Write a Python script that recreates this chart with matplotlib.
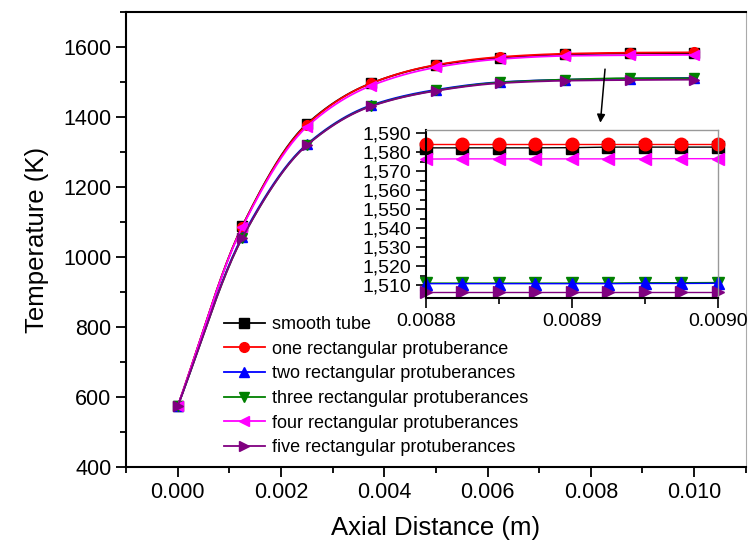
import numpy as np
import matplotlib.pyplot as plt
from matplotlib.ticker import MultipleLocator, FuncFormatter

plt.rcParams['font.family'] = ['Liberation Sans', 'DejaVu Sans']

# main data
x = [0.0, 0.00125, 0.0025, 0.00375, 0.005, 0.00625, 0.0075, 0.00875, 0.01]
smooth = [573, 1088, 1380, 1497, 1548, 1570, 1579, 1582, 1583]
one = [573, 1087, 1378, 1497, 1549, 1572, 1581, 1584, 1585]
two = [573, 1058, 1322, 1434, 1478, 1500, 1507, 1510, 1512]
three = [573, 1054, 1320, 1432, 1476, 1499, 1507, 1511, 1511]
four = [573, 1085, 1372, 1490, 1542, 1566, 1575, 1577, 1578]
five = [573, 1054, 1319, 1431, 1475, 1497, 1504, 1506, 1507]

# inset data (zoom near the outlet)
x_in = [0.0088, 0.008825, 0.00885, 0.008875, 0.0089, 0.008925, 0.00895, 0.008975, 0.009]
smooth_in = [1582.4, 1582.4, 1582.4, 1582.4, 1582.5, 1582.8, 1582.8, 1582.8, 1582.8]
one_in = [1584.7, 1584.7, 1584.7, 1584.7, 1584.7, 1584.7, 1584.7, 1584.7, 1584.7]
three_in = [1511.1, 1511.1, 1511.1, 1511.1, 1511.1, 1511.1, 1511.3, 1511.3, 1511.4]
two_in = [1510.8, 1510.8, 1510.8, 1510.8, 1510.8, 1510.8, 1510.9, 1510.9, 1511.0]
four_in = [1576.5, 1576.6, 1576.6, 1576.6, 1576.6, 1576.6, 1576.7, 1576.7, 1576.7]
five_in = [1506.3, 1506.3, 1506.3, 1506.3, 1506.3, 1506.3, 1506.3, 1506.3, 1506.3]

labels = ["smooth tube", "one rectangular protuberance", "two rectangular protuberances",
          "three rectangular protuberances", "four rectangular protuberances",
          "five rectangular protuberances"]
colors = ["black", "red", "#0000ff", "#008000", "#ff00ff", "#800080"]
markers = ["s", "o", "^", "v", "<", ">"]


def smooth_curve(xs, ys, n=200):
    # monotone cubic (Fritsch-Carlson) just for drawing a smooth line
    xs = np.asarray(xs, float)
    ys = np.asarray(ys, float)
    h = np.diff(xs)
    d = np.diff(ys) / h
    m = np.zeros_like(ys)
    for i in range(1, len(xs) - 1):
        if d[i - 1] * d[i] > 0:
            w1 = 2 * h[i] + h[i - 1]
            w2 = h[i] + 2 * h[i - 1]
            m[i] = (w1 + w2) / (w1 / d[i - 1] + w2 / d[i])
    m[0] = d[0]
    m[-1] = d[-1]
    xx = np.linspace(xs[0], xs[-1], n)
    k = np.clip(np.searchsorted(xs, xx) - 1, 0, len(xs) - 2)
    t = (xx - xs[k]) / h[k]
    h00 = 2 * t**3 - 3 * t**2 + 1
    h10 = t**3 - 2 * t**2 + t
    h01 = -2 * t**3 + 3 * t**2
    h11 = t**3 - t**2
    yy = h00 * ys[k] + h10 * h[k] * m[k] + h01 * ys[k + 1] + h11 * h[k] * m[k + 1]
    return xx, yy


fig = plt.figure(figsize=(7.48, 5.51), dpi=100)
ax = fig.add_axes([0.1684, 0.1525, 0.8286, 0.8255])

series = [smooth, one, two, three, four, five]
for ys, lab, c, mk in zip(series, labels, colors, markers):
    xx, yy = smooth_curve(x, ys)
    ax.plot(xx, yy, color=c, lw=1.3)
    ax.plot(x, ys, ls='none', marker=mk, color=c, ms=7)
    ax.plot([], [], color=c, lw=1.3, marker=mk, ms=7, label=lab)

ax.set_xlim(-0.001, 0.011)
ax.set_ylim(400, 1700)
ax.xaxis.set_major_locator(MultipleLocator(0.002))
ax.xaxis.set_minor_locator(MultipleLocator(0.001))
ax.yaxis.set_major_locator(MultipleLocator(200))
ax.yaxis.set_minor_locator(MultipleLocator(100))
ax.xaxis.set_major_formatter(FuncFormatter(lambda v, p: f"{v:.3f}"))
ax.tick_params(which='major', direction='out', length=7, width=1.3, labelsize=15.5)
ax.tick_params(which='minor', direction='out', length=4, width=1.3)
ax.tick_params(top=False, right=False)
for s in ['left', 'bottom', 'top']:
    ax.spines[s].set_linewidth(1.5)
ax.spines['right'].set_color('#aaaaaa')
ax.spines['right'].set_linewidth(0.8)

ax.set_xlabel("Axial Distance (m)", fontsize=18.5, labelpad=10)
ax.set_ylabel("Temperature (K)", fontsize=18.5, labelpad=10)

ax.legend(loc='lower left', bbox_to_anchor=(0.14, 0.0), frameon=False, fontsize=13,
          handlelength=2.3, labelspacing=0.42, handletextpad=0.4, borderaxespad=0.2)

ax.annotate("", xy=(0.00818, 1376), xytext=(0.00828, 1545),
            arrowprops=dict(arrowstyle='-|>', color='black', lw=1.1, mutation_scale=12))

# inset
axi = fig.add_axes([0.5695, 0.459, 0.390, 0.305])
in_series = [smooth_in, one_in, three_in, two_in, four_in, five_in]
in_colors = [colors[0], colors[1], colors[3], colors[2], colors[4], colors[5]]
in_markers = [markers[0], markers[1], markers[3], markers[2], markers[4], markers[5]]
for ys, c, mk in zip(in_series, in_colors, in_markers):
    axi.plot(x_in, ys, color=c, lw=1.0, marker=mk, ms=9, clip_on=False)
axi.set_xlim(0.0088, 0.0090)
axi.set_ylim(1503.2, 1591.8)
axi.xaxis.set_major_locator(MultipleLocator(0.0001))
axi.xaxis.set_minor_locator(MultipleLocator(0.00005))
axi.yaxis.set_major_locator(MultipleLocator(10))
axi.yaxis.set_minor_locator(MultipleLocator(5))
axi.xaxis.set_major_formatter(FuncFormatter(lambda v, p: f"{v:.4f}"))
axi.yaxis.set_major_formatter(FuncFormatter(lambda v, p: f"{v:,.0f}"))
axi.tick_params(which='major', direction='out', length=7, width=1.2, labelsize=14)
axi.tick_params(which='minor', direction='out', length=4, width=1.2)
axi.tick_params(top=False, right=False)
for s in ['left', 'bottom']:
    axi.spines[s].set_linewidth(1.5)
for s in ['top', 'right']:
    axi.spines[s].set_color('#999999')
    axi.spines[s].set_linewidth(1.0)

fig.savefig("out.png", dpi=100)
